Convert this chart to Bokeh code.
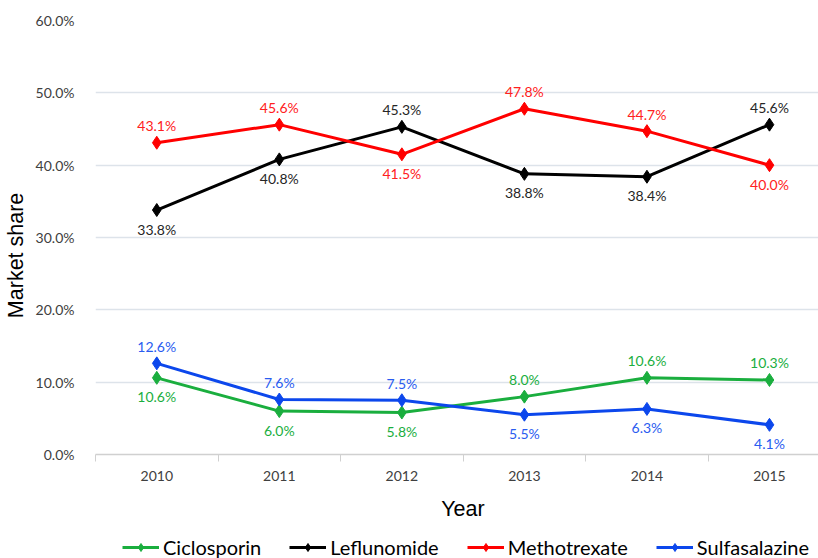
from bokeh.plotting import figure
from bokeh.layouts import column
from bokeh.models import (Range1d, FixedTicker, Legend, LegendItem, ColumnDataSource)
from bokeh.core.properties import value
from bokeh.embed import file_html
from bokeh.resources import INLINE

years = ["2010", "2011", "2012", "2013", "2014", "2015"]
ciclosporin = [10.6, 6.0, 5.8, 8.0, 10.6, 10.3]
leflunomide = [33.8, 40.8, 45.3, 38.8, 38.4, 45.6]
methotrexate = [43.1, 45.6, 41.5, 47.8, 44.7, 40.0]
sulfasalazine = [12.6, 7.6, 7.5, 5.5, 6.3, 4.1]
y_ticks = [0, 10, 20, 30, 40, 50, 60]

series = [
    ("Ciclosporin", ciclosporin, "#1aae3e", "#1aae3e",
     ["below", "below", "below", "above", "above", "above"]),
    ("Leflunomide", leflunomide, "#000000", "#262626",
     ["below", "below", "above", "below", "below", "above"]),
    ("Methotrexate", methotrexate, "#ff0000", "#ff2020",
     ["above", "above", "below", "above", "above", "below"]),
    ("Sulfasalazine", sulfasalazine, "#0c47ec", "#2a5cf0",
     ["above", "above", "above", "below", "below", "below"]),
]

LABEL_FONT = "Lato"
NB = "\u00a0"

p = figure(width=818, height=528, output_backend="svg", toolbar_location=None,
           x_range=Range1d(-0.5, 5.4), y_range=Range1d(0, 60),
           min_border_top=20, min_border_left=95, min_border_right=0,
           min_border_bottom=74)
p.outline_line_color = None
p.background_fill_color = "white"
p.border_fill_color = "white"

x_idx = list(range(len(years)))

for name, vals, col, tcol, place in series:
    src = ColumnDataSource(dict(
        x=x_idx, y=vals,
        lab=["%.1f%%" % v for v in vals],
        off=[-17 if pl == "above" else 19 for pl in place],
    ))
    p.line("x", "y", source=src, line_color=col, line_width=3)
    p.scatter("x", "y", source=src, marker="diamond", size=13,
              fill_color=col, line_color=col)
    p.text("x", "y", text="lab", source=src, y_offset="off",
           text_align="center", text_baseline="middle",
           text_font=value(LABEL_FONT), text_font_size="14px", text_color=tcol)

# x axis
p.xaxis.ticker = FixedTicker(ticks=x_idx, minor_ticks=[i - 0.5 for i in x_idx])
p.xaxis.major_label_overrides = {i: y for i, y in enumerate(years)}
p.xaxis.major_tick_line_color = None
p.xaxis.minor_tick_out = 7
p.xaxis.minor_tick_in = 0
p.xaxis.minor_tick_line_color = "#d0d0d0"
p.xaxis.axis_line_color = "#d0d0d0"
p.xaxis.axis_line_width = 1.5
p.xaxis.major_label_text_font = LABEL_FONT
p.xaxis.major_label_text_font_size = "14px"
p.xaxis.major_label_text_color = "#404040"
p.xaxis.major_label_standoff = 9
p.xaxis.axis_label = NB * 2 + "Year"
p.xaxis.axis_label_text_font = "Liberation Sans"
p.xaxis.axis_label_text_font_style = "normal"
p.xaxis.axis_label_text_font_size = "21.5px"
p.xaxis.axis_label_text_color = "#000000"
p.xaxis.axis_label_standoff = 13

# y axis
p.yaxis.ticker = FixedTicker(ticks=y_ticks)
p.yaxis.major_label_overrides = {v: "%.1f%%" % v for v in y_ticks}
p.yaxis.axis_line_color = None
p.yaxis.major_tick_line_color = None
p.yaxis.minor_tick_line_color = None
p.yaxis.major_label_text_font = LABEL_FONT
p.yaxis.major_label_text_font_size = "14px"
p.yaxis.major_label_text_color = "#404040"
p.yaxis.major_label_standoff = 15
p.yaxis.axis_label = "Market share" + NB * 6
p.yaxis.axis_label_text_font = "Liberation Sans"
p.yaxis.axis_label_text_font_style = "normal"
p.yaxis.axis_label_text_font_size = "21.5px"
p.yaxis.axis_label_text_color = "#000000"
p.yaxis.axis_label_standoff = 5

p.xgrid.grid_line_color = None
p.ygrid.grid_line_color = "#dde3ea"
p.ygrid.grid_line_width = 1.5

# legend strip
lg = figure(width=818, height=30, output_backend="svg", toolbar_location=None,
            x_axis_type=None, y_axis_type=None,
            x_range=Range1d(0, 1), y_range=Range1d(0, 1),
            min_border=0)
lg.outline_line_color = None
lg.xgrid.grid_line_color = None
lg.ygrid.grid_line_color = None
items = []
for name, vals, col, tcol, place in series:
    hidden = ColumnDataSource(dict(x=[-5, -4], y=[-5, -4]))
    lr = lg.line("x", "y", source=hidden, line_color=col, line_width=3)
    sr = lg.scatter("x", "y", source=hidden, marker="diamond", size=13,
                    fill_color=col, line_color=col)
    items.append(LegendItem(label=name, renderers=[lr, sr]))
legend = Legend(items=items, orientation="horizontal", location=(27, -1),
                label_text_font=LABEL_FONT, label_text_font_size="20px",
                label_text_color="#000000", glyph_width=37, glyph_height=20,
                label_height=20,
                label_standoff=4, spacing=28, padding=0, margin=0,
                border_line_color=None, background_fill_alpha=0)
lg.add_layout(legend, "center")

layout = column(p, lg, spacing=0)
open("out.html", "w").write(file_html(layout, INLINE))
